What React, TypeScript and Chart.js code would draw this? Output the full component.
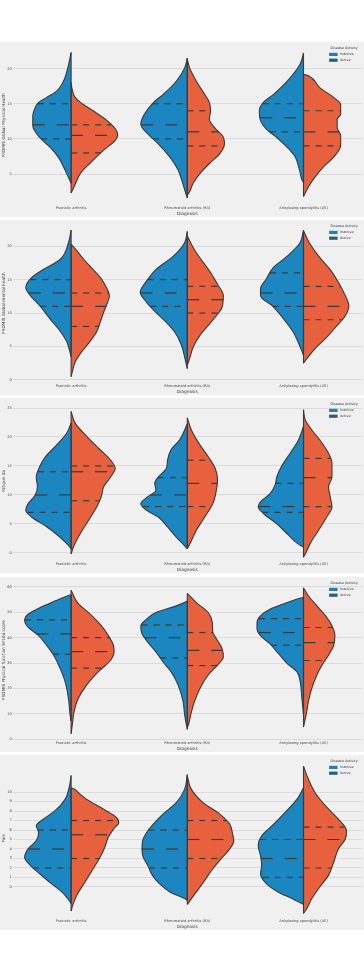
import React, { useEffect, useRef } from 'react';
import { Chart, registerables } from 'chart.js';

Chart.register(...registerables);
Chart.defaults.font.family = '"DejaVu Sans", sans-serif';

// ---------- data ----------
const categories = ['Psoriatic arthritis', 'Rheumatoid arthritis (RA)', 'Ankylosing spondylitis (AS)'];
const groups = ['Inactive', 'Active'];
const xTitle = 'Diagnosis';
const legendTitle = 'Disease Activity';

// Each profile: [value, half-width of the density (category units)]
// Panel 1 – PROMIS Global Physical Health
const physicalTicks = [5, 10, 15, 20];
const physicalPsaInactive = [[3.7, 0], [4.4, 0.02], [5.5, 0.05], [7.4, 0.11], [8.8, 0.18], [10.2, 0.27], [11.9, 0.33], [13.1, 0.33], [14.0, 0.32], [15.2, 0.28], [15.9, 0.21], [16.8, 0.124], [18.2, 0.066], [20.5, 0.023], [22.3, 0]];
const physicalPsaActive = [[2.3, 0], [3.2, 0.026], [5.1, 0.08], [6.5, 0.16], [8.4, 0.28], [9.8, 0.38], [10.5, 0.4], [11.2, 0.39], [12.6, 0.31], [14.0, 0.19], [15.2, 0.08], [15.9, 0.035], [17.0, 0.01], [18.0, 0]];
const physicalRaInactive = [[1.6, 0], [2.3, 0.014], [3.7, 0.04], [5.6, 0.08], [7.4, 0.15], [9.3, 0.25], [10.7, 0.34], [12.1, 0.4], [13.5, 0.37], [15.2, 0.29], [16.3, 0.21], [18.2, 0.095], [20.1, 0.023], [21.5, 0]];
const physicalRaActive = [[2.0, 0], [2.3, 0.014], [3.7, 0.05], [5.1, 0.11], [6.5, 0.19], [7.9, 0.28], [9.3, 0.32], [10.25, 0.31], [11.6, 0.235], [12.8, 0.19], [14.0, 0.2], [15.2, 0.19], [16.3, 0.15], [18.2, 0.078], [20.1, 0.02], [21.3, 0]];
const physicalAsInactive = [[3.8, 0], [4.2, 0.014], [5.6, 0.035], [7.4, 0.07], [8.8, 0.14], [10.2, 0.23], [11.4, 0.32], [12.6, 0.37], [14.0, 0.38], [15.2, 0.345], [16.3, 0.26], [18.2, 0.14], [20.6, 0.03], [22.2, 0]];
const physicalAsActive = [[1.8, 0], [3.2, 0.043], [4.6, 0.1], [6.0, 0.17], [7.4, 0.26], [9.1, 0.32], [10.5, 0.32], [11.6, 0.29], [12.8, 0.29], [13.5, 0.32], [14.9, 0.32], [15.9, 0.26], [17.3, 0.14], [18.9, 0.05], [19.2, 0]];
const physicalQuartiles = [[[10, 12, 15], [8, 10.5, 12]], [[10, 12, 15], [9, 11, 14]], [[11, 13, 15], [9, 11, 14]]];

// Panel 2 – PROMIS Global mental health
const mentalTicks = [0, 5, 10, 15, 20];
const mentalPsaInactive = [[3.5, 0], [4.5, 0.015], [5.7, 0.037], [7.65, 0.11], [9.1, 0.18], [11.1, 0.27], [12.6, 0.35], [13.8, 0.39], [15.3, 0.34], [16.5, 0.24], [18.0, 0.095], [20.5, 0.023], [22.4, 0]];
const mentalPsaActive = [[0.5, 0], [1.2, 0.01], [2.7, 0.035], [4.2, 0.09], [5.7, 0.16], [7.2, 0.22], [8.6, 0.25], [10.1, 0.28], [11.4, 0.31], [12.6, 0.33], [13.6, 0.31], [15.1, 0.26], [16.5, 0.19], [18.0, 0.11], [19.5, 0.04], [20.3, 0]];
const mentalRaInactive = [[1.7, 0], [3.2, 0.02], [5.2, 0.05], [7.2, 0.11], [8.6, 0.18], [10.1, 0.27], [11.6, 0.35], [13.1, 0.405], [14.8, 0.35], [16.5, 0.27], [18.5, 0.12], [20.5, 0.023], [22.2, 0]];
const mentalRaActive = [[2.2, 0], [3.2, 0.02], [4.9, 0.05], [6.7, 0.11], [8.15, 0.18], [9.6, 0.25], [10.9, 0.3], [12.6, 0.31], [14.3, 0.26], [15.8, 0.21], [17.5, 0.14], [19.5, 0.06], [21.5, 0]];
const mentalAsInactive = [[3.7, 0], [5.2, 0.035], [7.2, 0.09], [9.1, 0.17], [11.1, 0.27], [12.6, 0.37], [13.6, 0.37], [15.1, 0.32], [16.8, 0.26], [18.5, 0.14], [20.5, 0.03], [22.4, 0]];
const mentalAsActive = [[2.5, 0], [3.5, 0.043], [4.7, 0.1], [6.2, 0.19], [8.15, 0.29], [9.6, 0.36], [11.1, 0.39], [12.6, 0.36], [14.6, 0.3], [16.5, 0.23], [18.5, 0.13], [20.5, 0.05], [22.3, 0]];
const mentalQuartiles = [[[11, 13, 15], [8, 11, 13]], [[11, 13, 15], [10, 12, 14]], [[11, 13, 16], [9, 11, 14]]];

// Panel 3 – Fatigue 4a
const fatigueTicks = [0, 5, 10, 15, 20, 25];
const fatiguePsaInactive = [[0.7, 0], [1.3, 0.023], [2.7, 0.095], [4.5, 0.21], [6.2, 0.34], [7.35, 0.39], [8.5, 0.37], [9.95, 0.31], [11.4, 0.29], [13.1, 0.3], [14.9, 0.27], [16.6, 0.22], [18.3, 0.14], [20.7, 0.037], [22.4, 0]];
const fatiguePsaActive = [[-0.2, 0], [1.3, 0.026], [3.3, 0.078], [5.6, 0.15], [7.9, 0.22], [9.7, 0.26], [11.4, 0.28], [13.1, 0.34], [14.6, 0.38], [16.0, 0.34], [17.8, 0.25], [20.1, 0.135], [22.4, 0.035], [24.4, 0]];
const fatigueRaInactive = [[0.7, 0], [1.6, 0.04], [2.7, 0.095], [4.5, 0.17], [6.2, 0.25], [7.35, 0.35], [8.5, 0.4], [9.7, 0.34], [10.8, 0.27], [12.0, 0.28], [13.1, 0.25], [14.6, 0.18], [16.0, 0.17], [17.8, 0.14], [19.5, 0.066], [21.2, 0.023], [22.3, 0]];
const fatigueRaActive = [[0.7, 0], [2.1, 0.035], [3.9, 0.078], [6.2, 0.15], [8.5, 0.22], [10.8, 0.25], [12.6, 0.26], [14.6, 0.24], [16.6, 0.18], [18.9, 0.1], [21.2, 0.035], [23.3, 0]];
const fatigueAsInactive = [[1.0, 0], [1.6, 0.05], [3.3, 0.14], [5.0, 0.23], [6.8, 0.345], [7.9, 0.39], [8.8, 0.37], [10.2, 0.29], [11.7, 0.245], [13.1, 0.23], [14.9, 0.19], [17.2, 0.115], [19.5, 0.043], [21.8, 0]];
const fatigueAsActive = [[-0.75, 0], [0.1, 0.023], [1.6, 0.057], [3.9, 0.13], [6.2, 0.2], [7.9, 0.245], [9.7, 0.23], [11.4, 0.215], [13.1, 0.245], [15.5, 0.245], [17.2, 0.215], [19.5, 0.14], [21.2, 0.072], [23.0, 0.014], [24.7, 0]];
const fatigueQuartiles = [[[7, 10, 14], [9, 14, 15]], [[8, 10, 13], [8, 12, 16]], [[7, 8, 12], [8, 13, 16.3]]];

// Panel 4 – PROMIS Physical function SF10a score
const functionTicks = [0, 10, 20, 30, 40, 50, 60];
const functionPsaInactive = [[7.2, 0], [9.7, 0.009], [16.2, 0.023], [22.7, 0.052], [27.9, 0.095], [33.1, 0.15], [36.9, 0.21], [40.8, 0.28], [44.1, 0.37], [46.7, 0.4], [49.2, 0.37], [51.8, 0.27], [54.4, 0.14], [56.6, 0.023], [56.9, 0]];
const functionPsaActive = [[2.2, 0], [5.9, 0.011], [11.0, 0.026], [16.2, 0.063], [21.4, 0.135], [26.6, 0.235], [31.1, 0.34], [34.4, 0.37], [36.9, 0.365], [40.8, 0.32], [44.7, 0.26], [48.6, 0.18], [53.8, 0.055], [58.7, 0]];
const functionRaInactive = [[3.9, 0], [5.9, 0.009], [9.7, 0.023], [15.0, 0.037], [21.4, 0.08], [26.6, 0.14], [30.5, 0.21], [34.4, 0.27], [38.2, 0.34], [41.5, 0.39], [44.7, 0.4], [47.3, 0.35], [49.9, 0.27], [52.5, 0.095], [54.4, 0]];
const functionRaActive = [[4.6, 0], [5.9, 0.011], [9.7, 0.03], [15.0, 0.063], [20.1, 0.11], [25.3, 0.18], [29.2, 0.26], [32.4, 0.31], [35.6, 0.3], [38.9, 0.26], [42.1, 0.22], [46.0, 0.215], [49.9, 0.18], [53.8, 0.078], [57.4, 0]];
const functionAsInactive = [[9.7, 0], [16.2, 0.014], [22.7, 0.029], [26.6, 0.057], [29.8, 0.14], [33.7, 0.215], [37.6, 0.29], [40.8, 0.37], [43.4, 0.4], [46.0, 0.4], [48.6, 0.37], [51.2, 0.29], [53.8, 0.14], [55.7, 0.014], [55.8, 0]];
const functionAsActive = [[4.8, 0], [9.7, 0.023], [15.0, 0.043], [20.1, 0.072], [25.3, 0.115], [29.2, 0.16], [33.1, 0.215], [36.9, 0.26], [40.8, 0.27], [44.7, 0.245], [48.6, 0.19], [52.5, 0.115], [56.4, 0.043], [59.6, 0]];
const functionQuartiles = [[[33.5, 41.5, 47], [28, 34.5, 40]], [[32, 40, 45], [29, 35, 42]], [[37, 42, 47.5], [31, 38, 44]]];

// Panel 5 – Pain
const painTicks = [0, 1, 2, 3, 4, 5, 6, 7, 8, 9, 10];
const painPsaInactive = [[-1.75, 0], [-1.57, 0.009], [-0.52, 0.08], [0.35, 0.17], [1.39, 0.27], [2.26, 0.35], [3.14, 0.4], [4.01, 0.37], [4.88, 0.3], [5.75, 0.28], [6.45, 0.3], [7.14, 0.24], [8.01, 0.14], [9.23, 0.052], [10.63, 0.014], [11.74, 0]];
const painPsaActive = [[-2.54, 0], [-1.92, 0.014], [-0.87, 0.049], [0.52, 0.12], [1.92, 0.19], [3.14, 0.25], [4.18, 0.29], [5.23, 0.32], [6.1, 0.365], [6.79, 0.41], [7.32, 0.39], [8.19, 0.28], [9.23, 0.135], [9.93, 0.063], [10.3, 0.03], [10.45, 0]];
const painRaInactive = [[-1.4, 0], [-1.22, 0.023], [-0.52, 0.15], [0.35, 0.24], [1.22, 0.3], [2.26, 0.34], [3.14, 0.38], [4.01, 0.39], [5.05, 0.38], [5.92, 0.34], [6.79, 0.28], [7.67, 0.21], [8.89, 0.095], [10.28, 0.023], [11.85, 0]];
const painRaActive = [[-1.85, 0], [-1.39, 0.026], [-0.52, 0.078], [0.7, 0.15], [1.92, 0.22], [2.96, 0.29], [4.01, 0.365], [4.88, 0.4], [5.57, 0.39], [6.62, 0.365], [7.67, 0.28], [8.89, 0.135], [10.28, 0.035], [11.67, 0]];
const painAsInactive = [[-1.85, 0], [-1.74, 0.014], [-1.22, 0.1], [-0.52, 0.22], [0.35, 0.32], [1.39, 0.37], [2.26, 0.36], [3.31, 0.37], [4.36, 0.39], [5.4, 0.36], [6.45, 0.27], [7.84, 0.16], [9.23, 0.057], [10.45, 0]];
const painAsActive = [[-2.79, 0], [-2.26, 0.029], [-1.22, 0.072], [0.0, 0.14], [1.22, 0.215], [2.61, 0.26], [4.01, 0.3], [5.05, 0.36], [5.92, 0.37], [7.14, 0.3], [8.54, 0.19], [9.93, 0.1], [11.32, 0.043], [12.72, 0]];
const painQuartiles = [[[2, 4, 6], [3, 5.5, 7]], [[2, 4, 6], [3, 5, 7]], [[1, 3, 5], [2, 5, 6.3]]];

// ---------- styles ----------
const fillColors = ['#1b86c0', '#e8613f'];
const legendColors = ['#1f7fba', '#2e5b7a'];
const edgeColor = '#3a3a3a';
const textColor = '#4a4a4a';
const panelBg = '#f0f0f0';

type Profile = number[][];
interface PanelSpec {
  title: string;
  min: number;
  max: number;
  ticks: number[];
  profiles: Profile[][];
  quartiles: number[][][];
}

const panels: PanelSpec[] = [
  { title: 'PROMIS Global Physical Health', min: 0.6, max: 23.3, ticks: physicalTicks,
    profiles: [[physicalPsaInactive, physicalPsaActive], [physicalRaInactive, physicalRaActive], [physicalAsInactive, physicalAsActive]],
    quartiles: physicalQuartiles },
  { title: 'PROMIS Global mental health', min: -0.45, max: 23.4, ticks: mentalTicks,
    profiles: [[mentalPsaInactive, mentalPsaActive], [mentalRaInactive, mentalRaActive], [mentalAsInactive, mentalAsActive]],
    quartiles: mentalQuartiles },
  { title: 'Fatigue 4a', min: -1.4, max: 26.15, ticks: fatigueTicks,
    profiles: [[fatiguePsaInactive, fatiguePsaActive], [fatigueRaInactive, fatigueRaActive], [fatigueAsInactive, fatigueAsActive]],
    quartiles: fatigueQuartiles },
  { title: 'PROMIS Physical function SF10a score', min: -0.3, max: 62.55, ticks: functionTicks,
    profiles: [[functionPsaInactive, functionPsaActive], [functionRaInactive, functionRaActive], [functionAsInactive, functionAsActive]],
    quartiles: functionQuartiles },
  { title: 'Pain', min: -3.27, max: 13.55, ticks: painTicks,
    profiles: [[painPsaInactive, painPsaActive], [painRaInactive, painRaActive], [painAsInactive, painAsActive]],
    quartiles: painQuartiles },
];

const panelTops = [42, 220, 398, 577, 755];
const W = 364;
const H = 175;

function widthAt(profile: Profile, v: number): number {
  for (let i = 1; i < profile.length; i++) {
    const [y0, w0] = profile[i - 1];
    const [y1, w1] = profile[i];
    if (v >= y0 && v <= y1) {
      const t = y1 === y0 ? 0 : (v - y0) / (y1 - y0);
      return w0 + t * (w1 - w0);
    }
  }
  return 0;
}

function buildDatasets(spec: PanelSpec) {
  const ds: any[] = [];
  spec.profiles.forEach((pair, c) => {
    pair.forEach((profile, g) => {
      const sign = g === 0 ? -1 : 1;
      ds.push({
        label: `${categories[c]} ${groups[g]}`,
        data: profile.map(([y, w]) => ({ x: c + sign * w, y })),
        fill: { value: c },
        backgroundColor: fillColors[g],
        borderColor: edgeColor,
        borderWidth: 1.1,
        pointRadius: 0,
        cubicInterpolationMode: 'monotone',
        order: 3,
      });
      ds.push({
        label: 'center',
        data: [{ x: c, y: profile[0][0] }, { x: c, y: profile[profile.length - 1][0] }],
        borderColor: edgeColor,
        borderWidth: 1.1,
        pointRadius: 0,
        fill: false,
        order: 2,
      });
      spec.quartiles[c][g].forEach((q, k) => {
        const w = widthAt(profile, q);
        const pts = g === 0 ? [{ x: c - w, y: q }, { x: c, y: q }] : [{ x: c, y: q }, { x: c + w, y: q }];
        ds.push({
          label: 'quartile',
          data: pts,
          borderColor: edgeColor,
          borderWidth: 1.2,
          borderDash: k === 1 ? [12, 12] : [6, 6],
          pointRadius: 0,
          fill: false,
          order: 1,
        });
      });
    });
  });
  return ds;
}

const legendPlugin = {
  id: 'activityLegend',
  afterDraw(chart: any) {
    const ctx = chart.ctx;
    const right = chart.chartArea.right;
    ctx.save();
    ctx.font = '3.4px "DejaVu Sans"';
    ctx.fillStyle = '#333';
    ctx.textAlign = 'center';
    ctx.textBaseline = 'middle';
    ctx.fillText(legendTitle, right - 17.5, 6.6);
    groups.forEach((g, i) => {
      ctx.fillStyle = legendColors[i];
      ctx.fillRect(right - 32.5, 10.8 + i * 5.8, 8.5, 3.2);
      ctx.fillStyle = '#333';
      ctx.textAlign = 'left';
      ctx.fillText(g, right - 21.5, 12.5 + i * 5.8);
    });
    ctx.restore();
  },
};

function Panel({ spec, top }: { spec: PanelSpec; top: number }) {
  const ref = useRef<HTMLCanvasElement>(null);
  useEffect(() => {
    if (!ref.current) return;
    const chart = new Chart(ref.current, {
      type: 'line',
      data: { datasets: buildDatasets(spec) },
      plugins: [legendPlugin],
      options: {
        animation: false,
        responsive: false,
        maintainAspectRatio: false,
        indexAxis: 'y',
        events: [],
        layout: { padding: { top: 2, right: 2.4, left: 0, bottom: 0 } },
        plugins: { legend: { display: false }, tooltip: { enabled: false } },
        scales: {
          x: {
            type: 'linear',
            min: -0.5,
            max: 2.5,
            afterBuildTicks: (s: any) => { s.ticks = categories.map((_, i) => ({ value: i })); },
            afterFit: (s: any) => { s.height = 12; },
            grid: { display: false, drawTicks: false },
            border: { display: false },
            ticks: {
              callback: (v: any) => categories[v] ?? '',
              font: { size: 3.6 },
              color: textColor,
              padding: 1.2,
              maxRotation: 0,
              autoSkip: false,
            },
            title: { display: true, text: xTitle, font: { size: 4.3 }, color: '#3a3a3a', padding: { top: 0, bottom: 1 } },
          },
          y: {
            type: 'linear',
            min: spec.min,
            max: spec.max,
            afterBuildTicks: (s: any) => { s.ticks = spec.ticks.map((v) => ({ value: v })); },
            afterFit: (s: any) => { s.width = 13; },
            grid: { color: '#d6d6d6', lineWidth: 0.8, drawTicks: false },
            border: { display: false },
            ticks: { font: { size: 3.6 }, color: textColor, padding: 1.2, autoSkip: false },
            title: { display: true, text: spec.title, font: { size: 4.2 }, color: '#3a3a3a', padding: { top: 1, bottom: 0 } },
          },
        },
      } as any,
    });
    return () => chart.destroy();
  }, [spec]);
  return (
    <canvas
      ref={ref}
      width={W}
      height={H}
      style={{ position: 'absolute', left: 0, top, width: W, height: H, background: panelBg, display: 'block' }}
    />
  );
}

export default function App() {
  return (
    <div style={{ position: 'absolute', left: 0, top: 0, width: W, height: 973, background: '#ffffff', overflow: 'hidden' }}>
      {panels.map((p, i) => (
        <Panel key={i} spec={p} top={panelTops[i]} />
      ))}
    </div>
  );
}
